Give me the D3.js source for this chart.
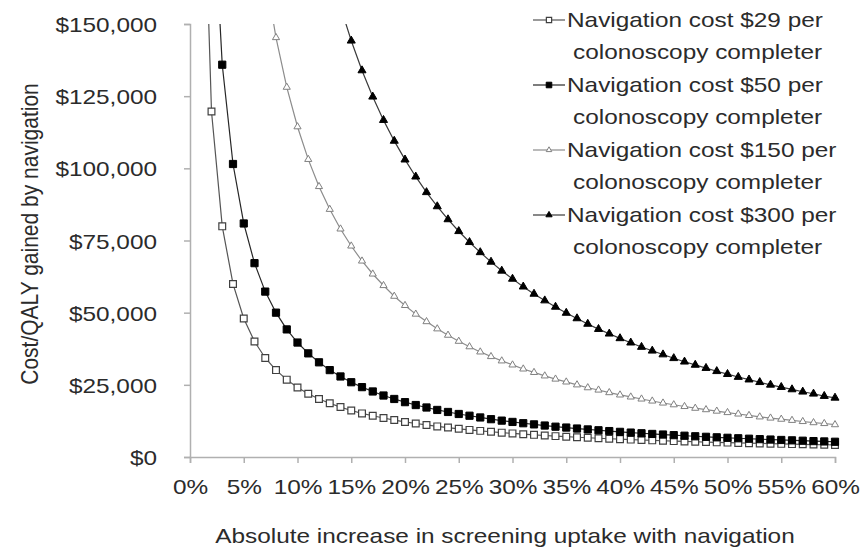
<html>
<head>
<meta charset="utf-8">
<script src="https://d3js.org/d3.v7.min.js"></script>
<style>
  body { margin: 0; background: #fff; }
  text { font-family: "Liberation Sans", Arial, sans-serif; fill: #2b2b2b; }
</style>
</head>
<body>
<svg id="chart" width="862" height="556"></svg>
<script>
// absolute increase in screening uptake (%)
const uptake = [1,2,3,4,5,6,7,8,9,10,11,12,13,14,15,16,17,18,19,20,
  21,22,23,24,25,26,27,28,29,30,31,32,33,34,35,36,37,38,39,40,
  41,42,43,44,45,46,47,48,49,50,51,52,53,54,55,56,57,58,59,60];

// cost per QALY gained (null = not plotted)
const cost29 = [239200,119700,79900,59950,48000,40000,34300,30100,26800,24100,
  21900,20100,18600,17300,16100,15100,14300,13500,12800,12150,
  11600,11100,10600,10200,9760,9390,9050,8740,8440,8170,
  7910,7670,7440,7230,7030,6840,6660,6490,6330,6180,
  6030,5890,5760,5630,5510,5400,5290,5180,5080,4980,
  4890,4800,4710,4630,4550,4470,4390,4320,4250,4180];
const cost50 = [null,204700,135900,101500,80900,67150,57300,50000,44200,39650,
  35900,32800,30100,27900,25900,24200,22700,21300,20100,19000,
  18000,17150,16300,15600,14900,14300,13700,13100,12600,12150,
  11700,11300,10900,10500,10200,9860,9550,9260,8980,8710,
  8460,8220,7990,7780,7570,7370,7180,6990,6820,6650,
  6490,6330,6180,6040,5900,5770,5640,5510,5390,5280];
const cost150 = [null,null,null,null,null,null,167400,145300,128100,114400,
  103100,93700,85800,79000,73100,67900,63400,59400,55700,52500,
  49500,46900,44400,42200,40100,38200,36400,34800,33300,31900,
  30500,29300,28100,27000,26000,25000,24000,23200,22300,21500,
  20800,20100,19400,18700,18100,17500,16900,16400,15900,15400,
  14900,14400,13900,13500,13100,12700,12300,11900,11600,11200];
const cost300 = [null,null,null,null,null,null,null,null,null,null,
  null,null,null,156000,144200,133900,124800,116700,109500,103000,
  97100,91700,86800,82300,78200,74400,70900,67600,64500,61700,
  59000,56500,54200,52000,49900,48000,46100,44300,42700,41100,
  39600,38100,36800,35500,34200,33000,31900,30800,29700,28700,
  27700,26800,25900,25000,24200,23400,22600,21900,21100,20500];

const seriesNames = [
  ["Navigation cost $29 per", "colonoscopy completer"],
  ["Navigation cost $50 per", "colonoscopy completer"],
  ["Navigation cost $150 per", "colonoscopy completer"],
  ["Navigation cost $300 per", "colonoscopy completer"]
];
const xTicks = [0,5,10,15,20,25,30,35,40,45,50,55,60];
const yTicks = [0,25000,50000,75000,100000,125000,150000];

const styles = [
  { line: "#555", symbol: d3.symbolSquare, size: 46, fill: "#fff", stroke: "#404040", sw: 1.2 },
  { line: "#262626", symbol: d3.symbolSquare, size: 52, fill: "#000", stroke: "#000", sw: 1 },
  { line: "#8c8c8c", symbol: d3.symbolTriangle, size: 22, fill: "#fff", stroke: "#808080", sw: 1 },
  { line: "#3a3a3a", symbol: d3.symbolTriangle, size: 28, fill: "#000", stroke: "#000", sw: 1 }
];
const allSeries = [cost29, cost50, cost150, cost300];

const sx = 1.16; // the figure's lettering is stretched sideways
const svg = d3.select("#chart");
const x = d3.scaleLinear().domain([0, 60]).range([190, 835]);
const y = d3.scaleLinear().domain([0, 150000]).range([457, 24]);

svg.append("clipPath").attr("id", "plotclip")
  .append("rect").attr("x", 185).attr("y", 24).attr("width", 660).attr("height", 440);

// axes
const yAxis = svg.append("g").attr("transform", "translate(190,0)")
  .call(d3.axisLeft(y).tickValues(yTicks).tickSize(6)
    .tickFormat(d => "$" + d3.format(",")(d)));
yAxis.selectAll("text").attr("x", -33 / sx).attr("dy", "0.36em")
  .attr("transform", `scale(${sx},1)`).style("font-size", "21px");

const xAxis = svg.append("g").attr("transform", "translate(0,457)")
  .call(d3.axisBottom(x).tickValues(xTicks).tickSize(6).tickPadding(16)
    .tickFormat(d => d + "%"));
xAxis.selectAll("text").attr("transform", `scale(${sx},1)`).style("font-size", "21px");

svg.selectAll(".domain, .tick line").attr("stroke", "#b0b0b0").attr("stroke-width", 1.5);

// axis titles
svg.append("text")
  .attr("transform", `translate(505,543) scale(${sx},1)`)
  .attr("text-anchor", "middle").style("font-size", "21px")
  .text("Absolute increase in screening uptake with navigation");
svg.append("text")
  .attr("transform", `translate(38,234) rotate(-90) scale(1,${sx})`)
  .attr("text-anchor", "middle").style("font-size", "21px")
  .text("Cost/QALY gained by navigation");

// series
const plot = svg.append("g").attr("clip-path", "url(#plotclip)");
allSeries.forEach((vals, i) => {
  const st = styles[i];
  const pts = uptake.map((u, j) => [u, vals[j]]).filter(p => p[1] != null);
  plot.append("path").datum(pts)
    .attr("fill", "none").attr("stroke", st.line).attr("stroke-width", 1.2)
    .attr("d", d3.line().x(p => x(p[0])).y(p => y(p[1])));
  plot.selectAll(null).data(pts.filter(p => p[1] <= 150000)).enter()
    .append("path")
    .attr("transform", p => `translate(${x(p[0])},${y(p[1])})`)
    .attr("d", d3.symbol().type(st.symbol).size(st.size))
    .attr("fill", st.fill).attr("stroke", st.stroke).attr("stroke-width", st.sw);
});

// legend
const leg = svg.append("g");
seriesNames.forEach((lines, i) => {
  const st = styles[i];
  const yc = 20 + i * 65;
  leg.append("line").attr("x1", 533).attr("x2", 565).attr("y1", yc).attr("y2", yc)
    .attr("stroke", st.line).attr("stroke-width", 1.2);
  leg.append("path").attr("transform", `translate(549,${yc})`)
    .attr("d", d3.symbol().type(st.symbol).size(st.size * 0.6))
    .attr("fill", st.fill).attr("stroke", st.stroke).attr("stroke-width", st.sw);
  leg.append("text").attr("transform", `translate(567,${yc}) scale(${sx},1)`)
    .attr("y", 7).style("font-size", "21px").text(lines[0]);
  leg.append("text").attr("transform", `translate(573,${yc + 32}) scale(${sx},1)`)
    .attr("y", 7).style("font-size", "21px").text(lines[1]);
});
</script>
</body>
</html>
